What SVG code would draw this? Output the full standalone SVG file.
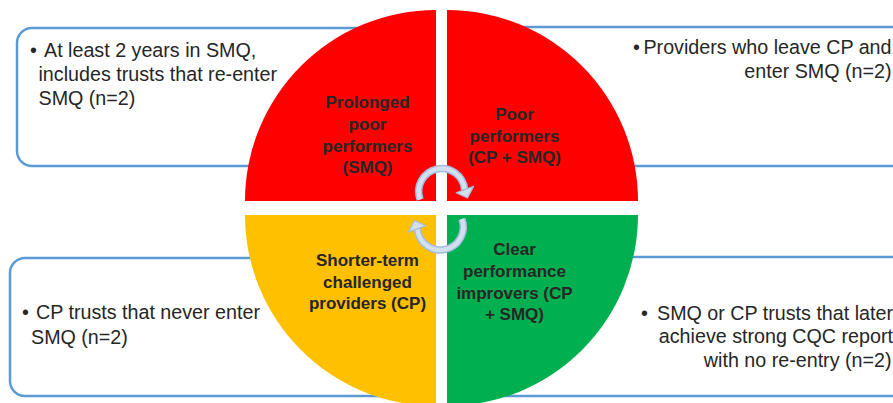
<svg xmlns="http://www.w3.org/2000/svg" width="893" height="403" viewBox="0 0 893 403">
<defs>
<style>
.box{fill:#FFFFFF;stroke:#5B9BD5;stroke-width:2.5}
.body{font-family:"Liberation Sans",Arial,sans-serif;font-size:19.7px;fill:#262626}
.lbl{font-family:"Liberation Sans",Arial,sans-serif;font-size:17px;font-weight:bold;fill:#262626;text-anchor:middle}
.end{text-anchor:end}
.arcOut{fill:none;stroke:#A3BCE0;stroke-width:7.5}
.arcIn{fill:none;stroke:#D3E0F1;stroke-width:4.5}
.head{fill:#D3E0F1;stroke:#A3BCE0;stroke-width:1.2;stroke-linejoin:round}
</style>
</defs>
<rect width="893" height="403" fill="#FFFFFF"/>
<g id="box-tl"><rect class="box" x="17" y="28" width="383" height="138" rx="15"/></g>
<g id="box-tr"><rect class="box" x="480" y="27" width="440" height="139" rx="15"/></g>
<g id="box-bl"><rect class="box" x="10" y="258" width="400" height="138" rx="15"/></g>
<g id="box-br"><rect class="box" x="480" y="257" width="440" height="139" rx="15"/></g>

<g id="q-prolonged">
<path d="M436,201 L245,201 A191,191 0 0 1 436,10 Z" fill="#FF0000"/>
<text class="lbl" x="367.5" y="108">Prolonged</text>
<text class="lbl" x="367.5" y="130">poor</text>
<text class="lbl" x="367.5" y="152">performers</text>
<text class="lbl" x="367.5" y="173">(SMQ)</text>
</g>
<g id="q-poor">
<path d="M447,201 L447,10 A191,191 0 0 1 638,201 Z" fill="#FF0000"/>
<text class="lbl" x="514.5" y="120">Poor</text>
<text class="lbl" x="514.5" y="142">performers</text>
<text class="lbl" x="514.5" y="163">(CP + SMQ)</text>
</g>
<g id="q-shorter">
<path d="M436,215 L436,406 A191,191 0 0 1 245,215 Z" fill="#FFC000"/>
<text class="lbl" x="367.5" y="266">Shorter-term</text>
<text class="lbl" x="367.5" y="287.5">challenged</text>
<text class="lbl" x="367.5" y="309">providers (CP)</text>
</g>
<g id="q-clear">
<path d="M447,215 L638,215 A191,191 0 0 1 447,406 Z" fill="#00B050"/>
<text class="lbl" x="514.5" y="255">Clear</text>
<text class="lbl" x="514.5" y="277">performance</text>
<text class="lbl" x="514.5" y="298.5">improvers (CP</text>
<text class="lbl" x="514.5" y="320">+ SMQ)</text>
</g>

<g id="connectors">
<path class="arcOut" d="M420.1,199.5 A23,23 0 1 1 464.6,189.6"/>
<path class="arcIn" d="M420.1,199.5 A23,23 0 1 1 464.6,189.6"/>
<polygon class="head" points="473.5,186.4 456.2,192.7 467.5,198"/>
<path class="arcOut" d="M461.9,219 A23,23 0 1 1 417.4,228.9"/>
<path class="arcIn" d="M461.9,219 A23,23 0 1 1 417.4,228.9"/>
<polygon class="head" points="408.5,232.1 425.8,225.8 414.5,220.5"/>
</g>

<g id="text-tl">
<text class="body" y="57"><tspan x="30">•</tspan><tspan x="44">At least 2 years in SMQ,</tspan></text>
<text class="body" x="38.5" y="81">includes trusts that re-enter</text>
<text class="body" x="38.5" y="105">SMQ (n=2)</text>
</g>
<g id="text-tr">
<text class="body" x="633" y="54">•</text>
<text class="body end" x="891.5" y="54">Providers who leave CP and</text>
<text class="body end" x="891.5" y="78">enter SMQ (n=2)</text>
</g>
<g id="text-bl">
<text class="body" y="319"><tspan x="22">•</tspan><tspan x="36">CP trusts that never enter</tspan></text>
<text class="body" x="31" y="344">SMQ (n=2)</text>
</g>
<g id="text-br">
<text class="body" x="641" y="320">•</text>
<text class="body end" x="893" y="320">SMQ or CP trusts that later</text>
<text class="body end" x="893" y="343">achieve strong CQC report</text>
<text class="body end" x="891.5" y="367">with no re-entry (n=2)</text>
</g>
</svg>
